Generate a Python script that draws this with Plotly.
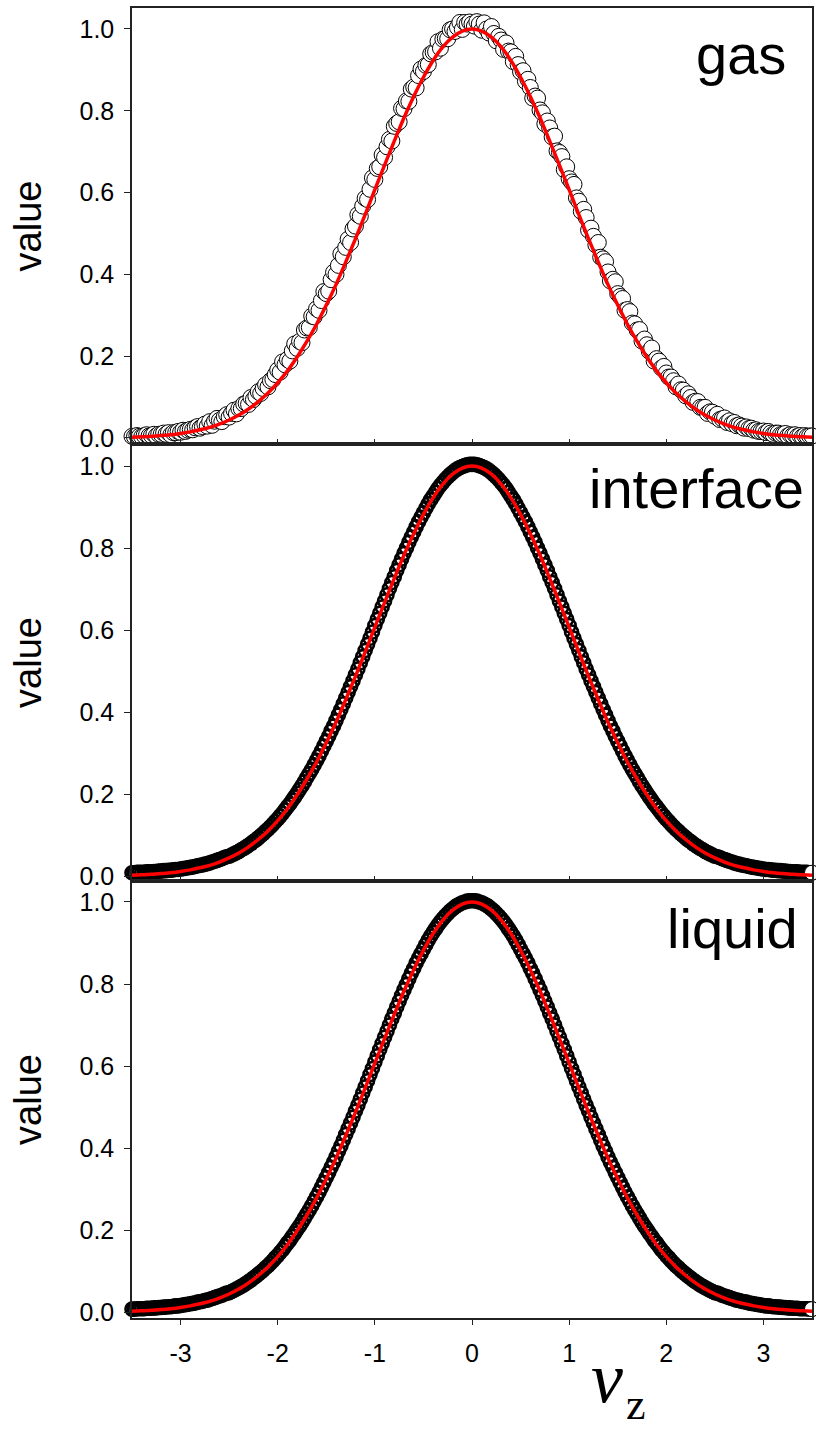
import plotly.graph_objects as go

# ---------------- data ----------------
vz = [
    -3.5, -3.475, -3.45, -3.425, -3.4, -3.375, -3.35, -3.325, -3.3, -3.275,
    -3.25, -3.225, -3.2, -3.175, -3.15, -3.125, -3.1, -3.075, -3.05, -3.025,
    -3.0, -2.975, -2.95, -2.925, -2.9, -2.875, -2.85, -2.825, -2.8, -2.775,
    -2.75, -2.725, -2.7, -2.675, -2.65, -2.625, -2.6, -2.575, -2.55, -2.525,
    -2.5, -2.475, -2.45, -2.425, -2.4, -2.375, -2.35, -2.325, -2.3, -2.275,
    -2.25, -2.225, -2.2, -2.175, -2.15, -2.125, -2.1, -2.075, -2.05, -2.025,
    -2.0, -1.975, -1.95, -1.925, -1.9, -1.875, -1.85, -1.825, -1.8, -1.775,
    -1.75, -1.725, -1.7, -1.675, -1.65, -1.625, -1.6, -1.575, -1.55, -1.525,
    -1.5, -1.475, -1.45, -1.425, -1.4, -1.375, -1.35, -1.325, -1.3, -1.275,
    -1.25, -1.225, -1.2, -1.175, -1.15, -1.125, -1.1, -1.075, -1.05, -1.025,
    -1.0, -0.975, -0.95, -0.925, -0.9, -0.875, -0.85, -0.825, -0.8, -0.775,
    -0.75, -0.725, -0.7, -0.675, -0.65, -0.625, -0.6, -0.575, -0.55, -0.525,
    -0.5, -0.475, -0.45, -0.425, -0.4, -0.375, -0.35, -0.325, -0.3, -0.275,
    -0.25, -0.225, -0.2, -0.175, -0.15, -0.125, -0.1, -0.075, -0.05, -0.025,
    0.0,
    0.025, 0.05, 0.075, 0.1, 0.125, 0.15, 0.175, 0.2, 0.225, 0.25,
    0.275, 0.3, 0.325, 0.35, 0.375, 0.4, 0.425, 0.45, 0.475, 0.5,
    0.525, 0.55, 0.575, 0.6, 0.625, 0.65, 0.675, 0.7, 0.725, 0.75,
    0.775, 0.8, 0.825, 0.85, 0.875, 0.9, 0.925, 0.95, 0.975, 1.0,
    1.025, 1.05, 1.075, 1.1, 1.125, 1.15, 1.175, 1.2, 1.225, 1.25,
    1.275, 1.3, 1.325, 1.35, 1.375, 1.4, 1.425, 1.45, 1.475, 1.5,
    1.525, 1.55, 1.575, 1.6, 1.625, 1.65, 1.675, 1.7, 1.725, 1.75,
    1.775, 1.8, 1.825, 1.85, 1.875, 1.9, 1.925, 1.95, 1.975, 2.0,
    2.025, 2.05, 2.075, 2.1, 2.125, 2.15, 2.175, 2.2, 2.225, 2.25,
    2.275, 2.3, 2.325, 2.35, 2.375, 2.4, 2.425, 2.45, 2.475, 2.5,
    2.525, 2.55, 2.575, 2.6, 2.625, 2.65, 2.675, 2.7, 2.725, 2.75,
    2.775, 2.8, 2.825, 2.85, 2.875, 2.9, 2.925, 2.95, 2.975, 3.0,
    3.025, 3.05, 3.075, 3.1, 3.125, 3.15, 3.175, 3.2, 3.225, 3.25,
    3.275, 3.3, 3.325, 3.35, 3.375, 3.4, 3.425, 3.45, 3.475, 3.5,
]

gas = [
    .004, .003, .006, .004, .003, .006, .008, .005, .006, .009,
    .005, .009, .009, .012, .009, .013, .008, .013, .013, .016,
    .014, .019, .016, .019, .021, .020, .025, .028, .024, .028,
    .034, .029, .040, .031, .041, .048, .043, .040, .052, .057,
    .051, .060, .068, .059, .072, .072, .083, .085, .082, .099,
    .094, .102, .113, .109, .121, .130, .125, .140, .143, .155,
    .166, .161, .186, .179, .192, .188, .213, .230, .219, .236,
    .233, .264, .269, .270, .298, .296, .316, .312, .336, .358,
    .353, .359, .387, .405, .400, .422, .450, .443, .466, .486,
    .478, .511, .518, .546, .542, .567, .586, .583, .608, .636,
    .632, .659, .663, .692, .686, .712, .730, .726, .762, .769,
    .773, .806, .805, .824, .823, .853, .858, .856, .886, .902,
    .896, .911, .913, .939, .943, .944, .969, .953, .975, .977,
    .976, .998, 1.000, .994, 1.004, 1.016, .999, 1.016, 1.012, 1.017,
    1.012,
    1.007, 1.018, 1.012, .997, 1.015, 1.000, .990, 1.006, .989, .971,
    .982, .973, .950, .966, .946, .944, .920, .933, .913, .895,
    .898, .872, .877, .857, .831, .836, .831, .802, .795, .768,
    .775, .758, .736, .738, .702, .698, .688, .656, .663, .634,
    .626, .620, .587, .579, .554, .559, .539, .508, .513, .493,
    .472, .478, .442, .438, .431, .406, .384, .388, .382, .353,
    .346, .341, .312, .314, .309, .281, .279, .264, .265, .237,
    .242, .228, .212, .220, .188, .194, .188, .171, .175, .159,
    .149, .149, .140, .125, .132, .118, .117, .103, .108, .099,
    .087, .090, .089, .075, .074, .075, .060, .064, .063, .053,
    .058, .045, .047, .049, .038, .042, .035, .038, .030, .032,
    .029, .024, .027, .023, .024, .019, .020, .016, .016, .017,
    .013, .016, .012, .009, .012, .012, .008, .009, .011, .005,
    .008, .006, .008, .004, .006, .003, .006, .004, .005, .005,
]

interface = [
    .008, .008, .009, .009, .009, .009, .010, .010, .010, .011,
    .011, .012, .012, .013, .013, .014, .014, .015, .016, .016,
    .017, .018, .019, .020, .021, .022, .023, .025, .026, .027,
    .029, .030, .032, .034, .036, .038, .040, .042, .045, .047,
    .048,
    .051, .054, .057, .060, .064, .067, .071, .075, .079, .084,
    .088, .093, .098, .103, .109, .114, .120, .126, .133, .139,
    .146, .153, .161, .169, .176, .185, .193, .202, .211, .220,
    .230, .240, .250, .260, .271, .282, .293, .305, .317, .329,
    .341, .354, .366, .379, .393, .406, .420, .434, .448, .462,
    .476, .491, .505, .520, .535, .550, .565, .580, .595, .611,
    .626, .641, .656, .671, .686, .701, .716, .730, .745, .759,
    .773, .787, .800, .814, .827, .839, .852, .864, .875, .886,
    .897, .908, .918, .927, .936, .945, .953, .960, .967, .973,
    .979, .984, .989, .993, .996, .999, 1.001, 1.003, 1.004,
    1.004,
    1.004, 1.003, 1.001, .999, .996, .993, .989, .984, .979,
    .973, .967, .960, .953, .945, .936, .927, .918, .908, .897,
    .886, .875, .864, .852, .839, .827, .814, .800, .787, .773,
    .759, .745, .730, .716, .701, .686, .671, .656, .641, .626,
    .611, .595, .580, .565, .550, .535, .520, .505, .491, .476,
    .462, .448, .434, .420, .406, .393, .379, .366, .354, .341,
    .329, .317, .305, .293, .282, .271, .260, .250, .240, .230,
    .220, .211, .202, .193, .185, .176, .169, .161, .153, .146,
    .139, .133, .126, .120, .114, .109, .103, .098, .093, .088,
    .084, .079, .075, .071, .067, .064, .060, .057, .054, .051,
    .048,
    .047, .045, .042, .040, .038, .036, .034, .032, .030, .029,
    .027, .026, .025, .023, .022, .021, .020, .019, .018, .017,
    .016, .016, .015, .014, .014, .013, .013, .012, .012, .011,
    .011, .010, .010, .010, .009, .009, .009, .009, .008, .008,
]

liquid = [
    .007, .007, .008, .008, .008, .008, .009, .009, .009, .010,
    .010, .011, .011, .012, .012, .013, .013, .014, .015, .015,
    .016, .017, .018, .019, .020, .021, .022, .024, .025, .026,
    .028, .029, .031, .033, .035, .037, .039, .041, .044, .046,
    .047,
    .050, .053, .056, .059, .063, .066, .070, .074, .078, .083,
    .087, .092, .097, .102, .108, .113, .119, .125, .132, .138,
    .145, .152, .160, .168, .175, .184, .192, .201, .210, .219,
    .229, .239, .249, .259, .270, .281, .292, .304, .316, .328,
    .340, .353, .365, .378, .392, .405, .419, .433, .447, .461,
    .475, .490, .504, .519, .534, .549, .564, .579, .594, .610,
    .625, .640, .655, .670, .685, .700, .715, .729, .744, .758,
    .772, .786, .799, .813, .826, .838, .851, .863, .874, .885,
    .896, .907, .917, .926, .935, .944, .952, .959, .966, .972,
    .978, .983, .988, .992, .995, .998, 1.000, 1.002, 1.003,
    1.003,
    1.003, 1.002, 1.000, .998, .995, .992, .988, .983, .978,
    .972, .966, .959, .952, .944, .935, .926, .917, .907, .896,
    .885, .874, .863, .851, .838, .826, .813, .799, .786, .772,
    .758, .744, .729, .715, .700, .685, .670, .655, .640, .625,
    .610, .594, .579, .564, .549, .534, .519, .504, .490, .475,
    .461, .447, .433, .419, .405, .392, .378, .365, .353, .340,
    .328, .316, .304, .292, .281, .270, .259, .249, .239, .229,
    .219, .210, .201, .192, .184, .175, .168, .160, .152, .145,
    .138, .132, .125, .119, .113, .108, .102, .097, .092, .087,
    .083, .078, .074, .070, .066, .063, .059, .056, .053, .050,
    .047,
    .046, .044, .041, .039, .037, .035, .033, .031, .029, .028,
    .026, .025, .024, .022, .021, .020, .019, .018, .017, .016,
    .015, .015, .014, .013, .013, .012, .012, .011, .011, .010,
    .010, .009, .009, .009, .008, .008, .008, .008, .007, .007,
]

# fitted curve (red), read at 0.1 steps
fit_x = [
    -3.5, -3.4, -3.3, -3.2, -3.1, -3.0, -2.9, -2.8, -2.7, -2.6,
    -2.5, -2.4, -2.3, -2.2, -2.1, -2.0, -1.9, -1.8, -1.7, -1.6,
    -1.5, -1.4, -1.3, -1.2, -1.1, -1.0, -0.9, -0.8, -0.7, -0.6,
    -0.5, -0.4, -0.3, -0.2, -0.1, 0.0, 0.1, 0.2, 0.3, 0.4,
    0.5, 0.6, 0.7, 0.8, 0.9, 1.0, 1.1, 1.2, 1.3, 1.4,
    1.5, 1.6, 1.7, 1.8, 1.9, 2.0, 2.1, 2.2, 2.3, 2.4,
    2.5, 2.6, 2.7, 2.8, 2.9, 3.0, 3.1, 3.2, 3.3, 3.4, 3.5,
]
fit_y = [
    .002, .003, .004, .006, .008, .011, .015, .020, .026, .034,
    .044, .056, .071, .089, .110, .135, .164, .198, .236, .278,
    .325, .375, .430, .487, .546, .607, .667, .726, .783, .835,
    .882, .923, .956, .980, .995, 1.000, .995, .980, .956, .923,
    .882, .835, .783, .726, .667, .607, .546, .487, .430, .375,
    .325, .278, .236, .198, .164, .135, .110, .089, .071, .056,
    .044, .034, .026, .020, .015, .011, .008, .006, .004, .003, .002,
]

panel_names = ["gas", "interface", "liquid"]
y_ticks = [0.0, 0.2, 0.4, 0.6, 0.8, 1.0]
y_tick_text = ["0.0", "0.2", "0.4", "0.6", "0.8", "1.0"]
x_ticks = [-3, -2, -1, 0, 1, 2, 3]
x_tick_text = ["-3", "-2", "-1", "0", "1", "2", "3"]

for arr in (gas, interface, liquid):
    assert len(arr) == len(vz), (len(arr), len(vz))
assert len(fit_x) == len(fit_y)

# ---------------- figure ----------------
# the page body margin is removed (post_script below), so the figure
# fills the 816x1432 window exactly; positions are page pixels
W, H = 816, 1432
SANS = "Liberation Sans, Arial, sans-serif"
SERIF = "Liberation Serif, Times New Roman, serif"
AX = "#222222"


def px_x(p):
    return p / W


def px_y(p):
    return 1 - p / H


x_dom = [px_x(132), px_x(812)]
# panel pixel extents (top, bottom)
panels_px = [(8, 444), (444, 881), (881, 1318)]
y_ranges = [[-0.0147, 1.0513], [-0.0122, 1.0537], [-0.0146, 1.0512]]

fig = go.Figure()

series = [gas, interface, liquid]
for i, ys in enumerate(series):
    xa = "x" if i == 0 else f"x{i+1}"
    ya = "y" if i == 0 else f"y{i+1}"
    if i == 0:
        fig.add_trace(go.Scatter(
            x=vz, y=ys, mode="markers", xaxis=xa, yaxis=ya, cliponaxis=False,
            marker=dict(symbol="circle", size=16, color="white",
                        line=dict(color="black", width=1)),
            showlegend=False, name=panel_names[i]))
    else:
        fig.add_trace(go.Scatter(
            x=vz, y=ys, mode="markers", xaxis=xa, yaxis=ya, cliponaxis=False,
            marker=dict(symbol="circle-open", size=13, color="black",
                        line=dict(color="black", width=2.6)),
            showlegend=False, name=panel_names[i]))
        fig.add_trace(go.Scatter(
            x=vz[-1:], y=ys[-1:], mode="markers", xaxis=xa, yaxis=ya,
            cliponaxis=False,
            marker=dict(symbol="circle", size=15, color="white",
                        line=dict(color="black", width=1)),
            showlegend=False, hoverinfo="skip"))
    fig.add_trace(go.Scatter(
        x=fit_x, y=fit_y, mode="lines", xaxis=xa, yaxis=ya, cliponaxis=False,
        line=dict(color="#ff0000", width=3.5, shape="spline", smoothing=0.6),
        showlegend=False, name=panel_names[i] + " fit"))

layout = dict(
    width=W, height=H,
    margin=dict(l=0, r=0, t=0, b=0, pad=0),
    paper_bgcolor="white", plot_bgcolor="white",
    showlegend=False,
)

for i in range(3):
    top, bot = panels_px[i]
    xk = "xaxis" if i == 0 else f"xaxis{i+1}"
    yk = "yaxis" if i == 0 else f"yaxis{i+1}"
    ya = "y" if i == 0 else f"y{i+1}"
    xa = "x" if i == 0 else f"x{i+1}"
    last = (i == 2)
    layout[xk] = dict(
        domain=x_dom, anchor=ya, range=[-3.5, 3.5],
        showgrid=False, zeroline=False,
        showline=True, linecolor=AX, linewidth=1.5, mirror=True,
        ticks="outside" if last else "inside", ticklen=5, tickwidth=1,
        tickcolor=AX,
        tickvals=x_ticks, ticktext=x_tick_text,
        showticklabels=last,
        tickfont=dict(family=SANS, size=25, color="black"),
        ticklabelstandoff=7,
        automargin=False,
    )
    layout[yk] = dict(
        domain=[px_y(bot), px_y(top)], anchor=xa, range=y_ranges[i],
        showgrid=False, zeroline=False,
        showline=True, linecolor=AX, linewidth=1.5, mirror=True,
        ticks="outside", ticklen=6, tickwidth=1, tickcolor=AX,
        tickvals=y_ticks, ticktext=y_tick_text,
        tickfont=dict(family=SANS, size=25, color="black"),
        ticklabelstandoff=5,
        title=dict(text="value", font=dict(family=SANS, size=38, color="black"),
                   standoff=26),
        automargin=False,
    )

fig.update_layout(**layout)

# panel labels
label_pos = [(788, 54), (806, 489), (800, 928)]
for name, (px, py) in zip(panel_names, label_pos):
    fig.add_annotation(
        text=name, xref="paper", yref="paper", x=px_x(px), y=px_y(py),
        xanchor="right", yanchor="middle", showarrow=False,
        font=dict(family=SANS, size=56, color="black"))

# x-axis title: italic v with subscript z
fig.add_annotation(
    text="<i>v</i>", xref="paper", yref="paper",
    x=px_x(607), y=px_y(1420), xanchor="center", yanchor="bottom",
    showarrow=False, font=dict(family=SERIF, size=72, color="black"))
fig.add_annotation(
    text="z", xref="paper", yref="paper",
    x=px_x(636), y=px_y(1431), xanchor="center", yanchor="bottom",
    showarrow=False, font=dict(family=SERIF, size=44, color="black"))

fig.write_html(
    "out.html",
    config={"displayModeBar": False},
    post_script="document.body.style.margin='0';"
                "document.body.style.overflow='hidden';",
)
